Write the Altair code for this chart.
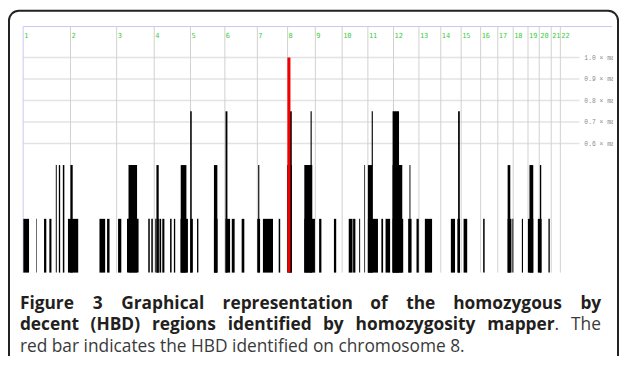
import altair as alt
import pandas as pd
import numpy as np

# ---------------- data ----------------
CHROM_NAMES = [str(i) for i in range(1, 23)]
CHROM_LENGTH_MB = [249.25, 243.20, 198.02, 191.15, 180.92, 171.12, 159.14, 146.36,
                   141.21, 135.53, 135.01, 133.85, 115.17, 107.35, 102.53, 90.35,
                   81.20, 78.08, 59.13, 63.03, 48.13, 51.30]

# HBD regions, genome-wide cumulative position (Mb) and score (fraction of max)
HBD_START = [1, 68, 110, 138, 236, 402, 442, 500, 547, 659, 675, 696, 704, 718, 733,
             774, 794, 829, 881, 916, 1005, 1066, 1099, 1151, 1233, 1263, 1346, 1481,
             1559, 1637, 1715, 1738, 1770, 1816, 1887, 1909, 1946, 2028, 2072, 2116,
             2253, 2287, 2320, 2423, 2552, 2577, 2627, 2659, 2711, 2767,
             172, 188, 209, 249, 555, 702, 830, 1005, 1238, 1391, 1481, 1797, 1816,
             1946, 2035, 2552, 2667, 2722,
             880, 1066, 1403, 1514, 1836, 1946, 2291]
HBD_END = [31, 71, 122, 149, 290, 432, 455, 517, 608, 667, 683, 702, 714, 727, 744,
           782, 801, 868, 894, 923, 1024, 1090, 1114, 1165, 1248, 1316, 1354, 1537,
           1571, 1649, 1735, 1750, 1775, 1869, 1896, 1933, 2002, 2046, 2084, 2154,
           2275, 2301, 2339, 2431, 2572, 2582, 2633, 2687, 2731, 2774,
           177, 195, 217, 261, 600, 714, 860, 1023, 1244, 1415, 1523, 1801, 1839,
           1997, 2040, 2566, 2687, 2729,
           888, 1076, 1415, 1520, 1842, 1980, 2300]
HBD_SCORE = [0.25] * 50 + [0.5] * 18 + [0.75] * 7

HIGHLIGHT_START = [1392]
HIGHLIGHT_END = [1408]
HIGHLIGHT_SCORE = [1.0]

LEVELS = [0.6, 0.7, 0.8, 0.9, 1.0]
LEVEL_LABELS = ["0.6 × max", "0.7 × max", "0.8 × max", "0.9 × max", "1.0 × max"]

CAPTION_1 = ["Figure", "3", "Graphical", "representation", "of", "the", "homozygous", "by"]
CAPTION_2_BOLD = ["decent", "(HBD)", "regions", "identified", "by", "homozygosity", "mapper"]
CAPTION_2_TAIL = [".", "The"]
CAPTION_3 = "red bar indicates the HBD identified on chromosome 8."

# ---------------- frame / layout constants ----------------
GRID_END = 2930      # Mb, where level lines end
TOP_Y = 1.144        # level of the top border line
LABEL_Y = 1.098      # level of chromosome labels
FRAME_RIGHT = 3102   # Mb, right end of the top border line
VIEW_W, VIEW_H = 610, 347
FRAME_W = 615

x_scale = alt.Scale(domain=[0, GRID_END], range=[14.3, 576], nice=False, zero=False)
y_scale = alt.Scale(domain=[0, 1], range=[264.5, 47.3], nice=False, zero=False)

starts = np.concatenate([[0], np.cumsum(CHROM_LENGTH_MB)[:-1]])
chrom_df = pd.DataFrame({"name": CHROM_NAMES, "start": starts,
                         "y0": 0.0, "y1": TOP_Y, "ly": LABEL_Y})
grid_df = pd.DataFrame({"x0": 0, "x1": GRID_END, "level": LEVELS, "label": LEVEL_LABELS})
hbd_df = pd.DataFrame({"start": HBD_START, "end": HBD_END, "score": HBD_SCORE, "zero": 0.0})
hl_df = pd.DataFrame({"start": HIGHLIGHT_START, "end": HIGHLIGHT_END,
                      "score": HIGHLIGHT_SCORE, "zero": 0.0})
top_df = pd.DataFrame({"x0": [0], "x1": [FRAME_RIGHT], "y": [TOP_Y]})

X = lambda f: alt.X(f, scale=x_scale, axis=None)
Y = lambda f: alt.Y(f, scale=y_scale, axis=None)

grid = alt.Chart(grid_df).mark_rule(color="#e3e3e3", strokeWidth=1.5).encode(
    x=X("x0:Q"), x2="x1:Q", y=Y("level:Q"))
top_line = alt.Chart(top_df).mark_rule(color="#c8c8f2", strokeWidth=1).encode(
    x=X("x0:Q"), x2="x1:Q", y=Y("y:Q"))
chrom_lines = alt.Chart(chrom_df.iloc[1:]).mark_rule(color="#d0d0d0", strokeWidth=1).encode(
    x=X("start:Q"), y=Y("y0:Q"), y2="y1:Q")
left_line = alt.Chart(chrom_df.iloc[:1]).mark_rule(color="#c8c8f2", strokeWidth=1).encode(
    x=X("start:Q"), y=Y("y0:Q"), y2="y1:Q")
chrom_labels = alt.Chart(chrom_df).mark_text(
    align="left", baseline="middle", dx=1, font="DejaVu Sans Mono", fontSize=7,
    color="#3ccc3c").encode(x=X("start:Q"), y=Y("ly:Q"), text="name:N")
bars = alt.Chart(hbd_df).mark_rect(color="#000000").encode(
    x=X("start:Q"), x2="end:Q", y=Y("zero:Q"), y2="score:Q")
red = alt.Chart(hl_df).mark_rect(color="#f00000").encode(
    x=X("start:Q"), x2="end:Q", y=Y("zero:Q"), y2="score:Q")
level_labels = alt.Chart(grid_df).mark_text(
    align="left", baseline="middle", dx=5, font="Liberation Mono", fontSize=6.4,
    color="#8a8a8a", clip=True).encode(x=X("x1:Q"), y=Y("level:Q"), text="label:N")

# ---------------- caption (justified) ----------------
BOLD_W = {" ": .26, "a": .598, "b": .630, "c": .52, "d": .630, "e": .59, "f": .386, "g": .561,
          "h": .652, "i": .303, "l": .303, "m": .982, "n": .652, "o": .617, "p": .630,
          "r": .455, "s": .509, "t": .41, "u": .652, "y": .569, "z": .497, "F": .582,
          "G": .728, "H": .77, "B": .676, "D": .748, "3": .572, "(": .328, ")": .328}
REG_W = {" ": .26, ".": .266, "T": .562, "h": .614, "e": .561}
FS = 17.5
LEFT, RIGHT = 11, 598
BASE = [301, 322.5, 344.5]


def w(s, table):
    return sum(table.get(c, 0.56) for c in s) * FS


rows_b, rows_r = [], []
ws = [w(t, BOLD_W) for t in CAPTION_1]
gap = (RIGHT - LEFT - sum(ws)) / (len(ws) - 1)
x = LEFT
for t, wi in zip(CAPTION_1, ws):
    rows_b.append({"t": t, "px": x, "py": BASE[0]})
    x += wi + gap
words = CAPTION_2_BOLD[:-1] + ["mapper.", "The"]
ws = [w(t, BOLD_W) for t in CAPTION_2_BOLD[:-1]] + \
     [w(CAPTION_2_BOLD[-1], BOLD_W) + w(".", REG_W), w("The", REG_W)]
gap = (RIGHT - LEFT - sum(ws)) / (len(ws) - 1)
x = LEFT
for t, wi in zip(words, ws):
    if t == "mapper.":
        rows_b.append({"t": "mapper", "px": x, "py": BASE[1]})
        rows_r.append({"t": ".", "px": x + w("mapper", BOLD_W), "py": BASE[1]})
    elif t == "The":
        rows_r.append({"t": "The", "px": x, "py": BASE[1]})
    else:
        rows_b.append({"t": t, "px": x, "py": BASE[1]})
    x += wi + gap
rows_r.append({"t": CAPTION_3, "px": LEFT, "py": BASE[2]})

cap_b = alt.Chart(pd.DataFrame(rows_b)).mark_text(
    align="left", baseline="alphabetic", font="Open Sans", fontSize=FS, fontWeight="bold",
    color="#231f20").encode(x=alt.X("px:Q", scale=None, axis=None),
                            y=alt.Y("py:Q", scale=None, axis=None), text="t:N")
cap_r = alt.Chart(pd.DataFrame(rows_r)).mark_text(
    align="left", baseline="alphabetic", font="Open Sans", fontSize=FS,
    color="#3a3a3a").encode(x=alt.X("px:Q", scale=None, axis=None),
                            y=alt.Y("py:Q", scale=None, axis=None), text="t:N")

# rounded frame around the figure; it continues below the drawing (clipped)
frame = alt.Chart(pd.DataFrame({"k": [0]})).mark_rect(
    fillOpacity=0, stroke="#222222", strokeWidth=2,
    cornerRadiusTopLeft=10, cornerRadiusTopRight=10).encode(
    x=alt.value(0), x2=alt.value(FRAME_W), y=alt.value(0), y2=alt.value(VIEW_H + 20))

chart = alt.layer(grid, top_line, chrom_lines, left_line, chrom_labels, bars, red,
                  level_labels, cap_b, cap_r, frame).properties(
    width=VIEW_W, height=VIEW_H,
    autosize=alt.AutoSizeParams(type="none"),
    padding={"left": 1, "top": 1, "right": 6, "bottom": 0},
).configure_view(strokeWidth=0, fill="white")

chart.save("out.html", embed_options={"renderer": "svg", "actions": False})
